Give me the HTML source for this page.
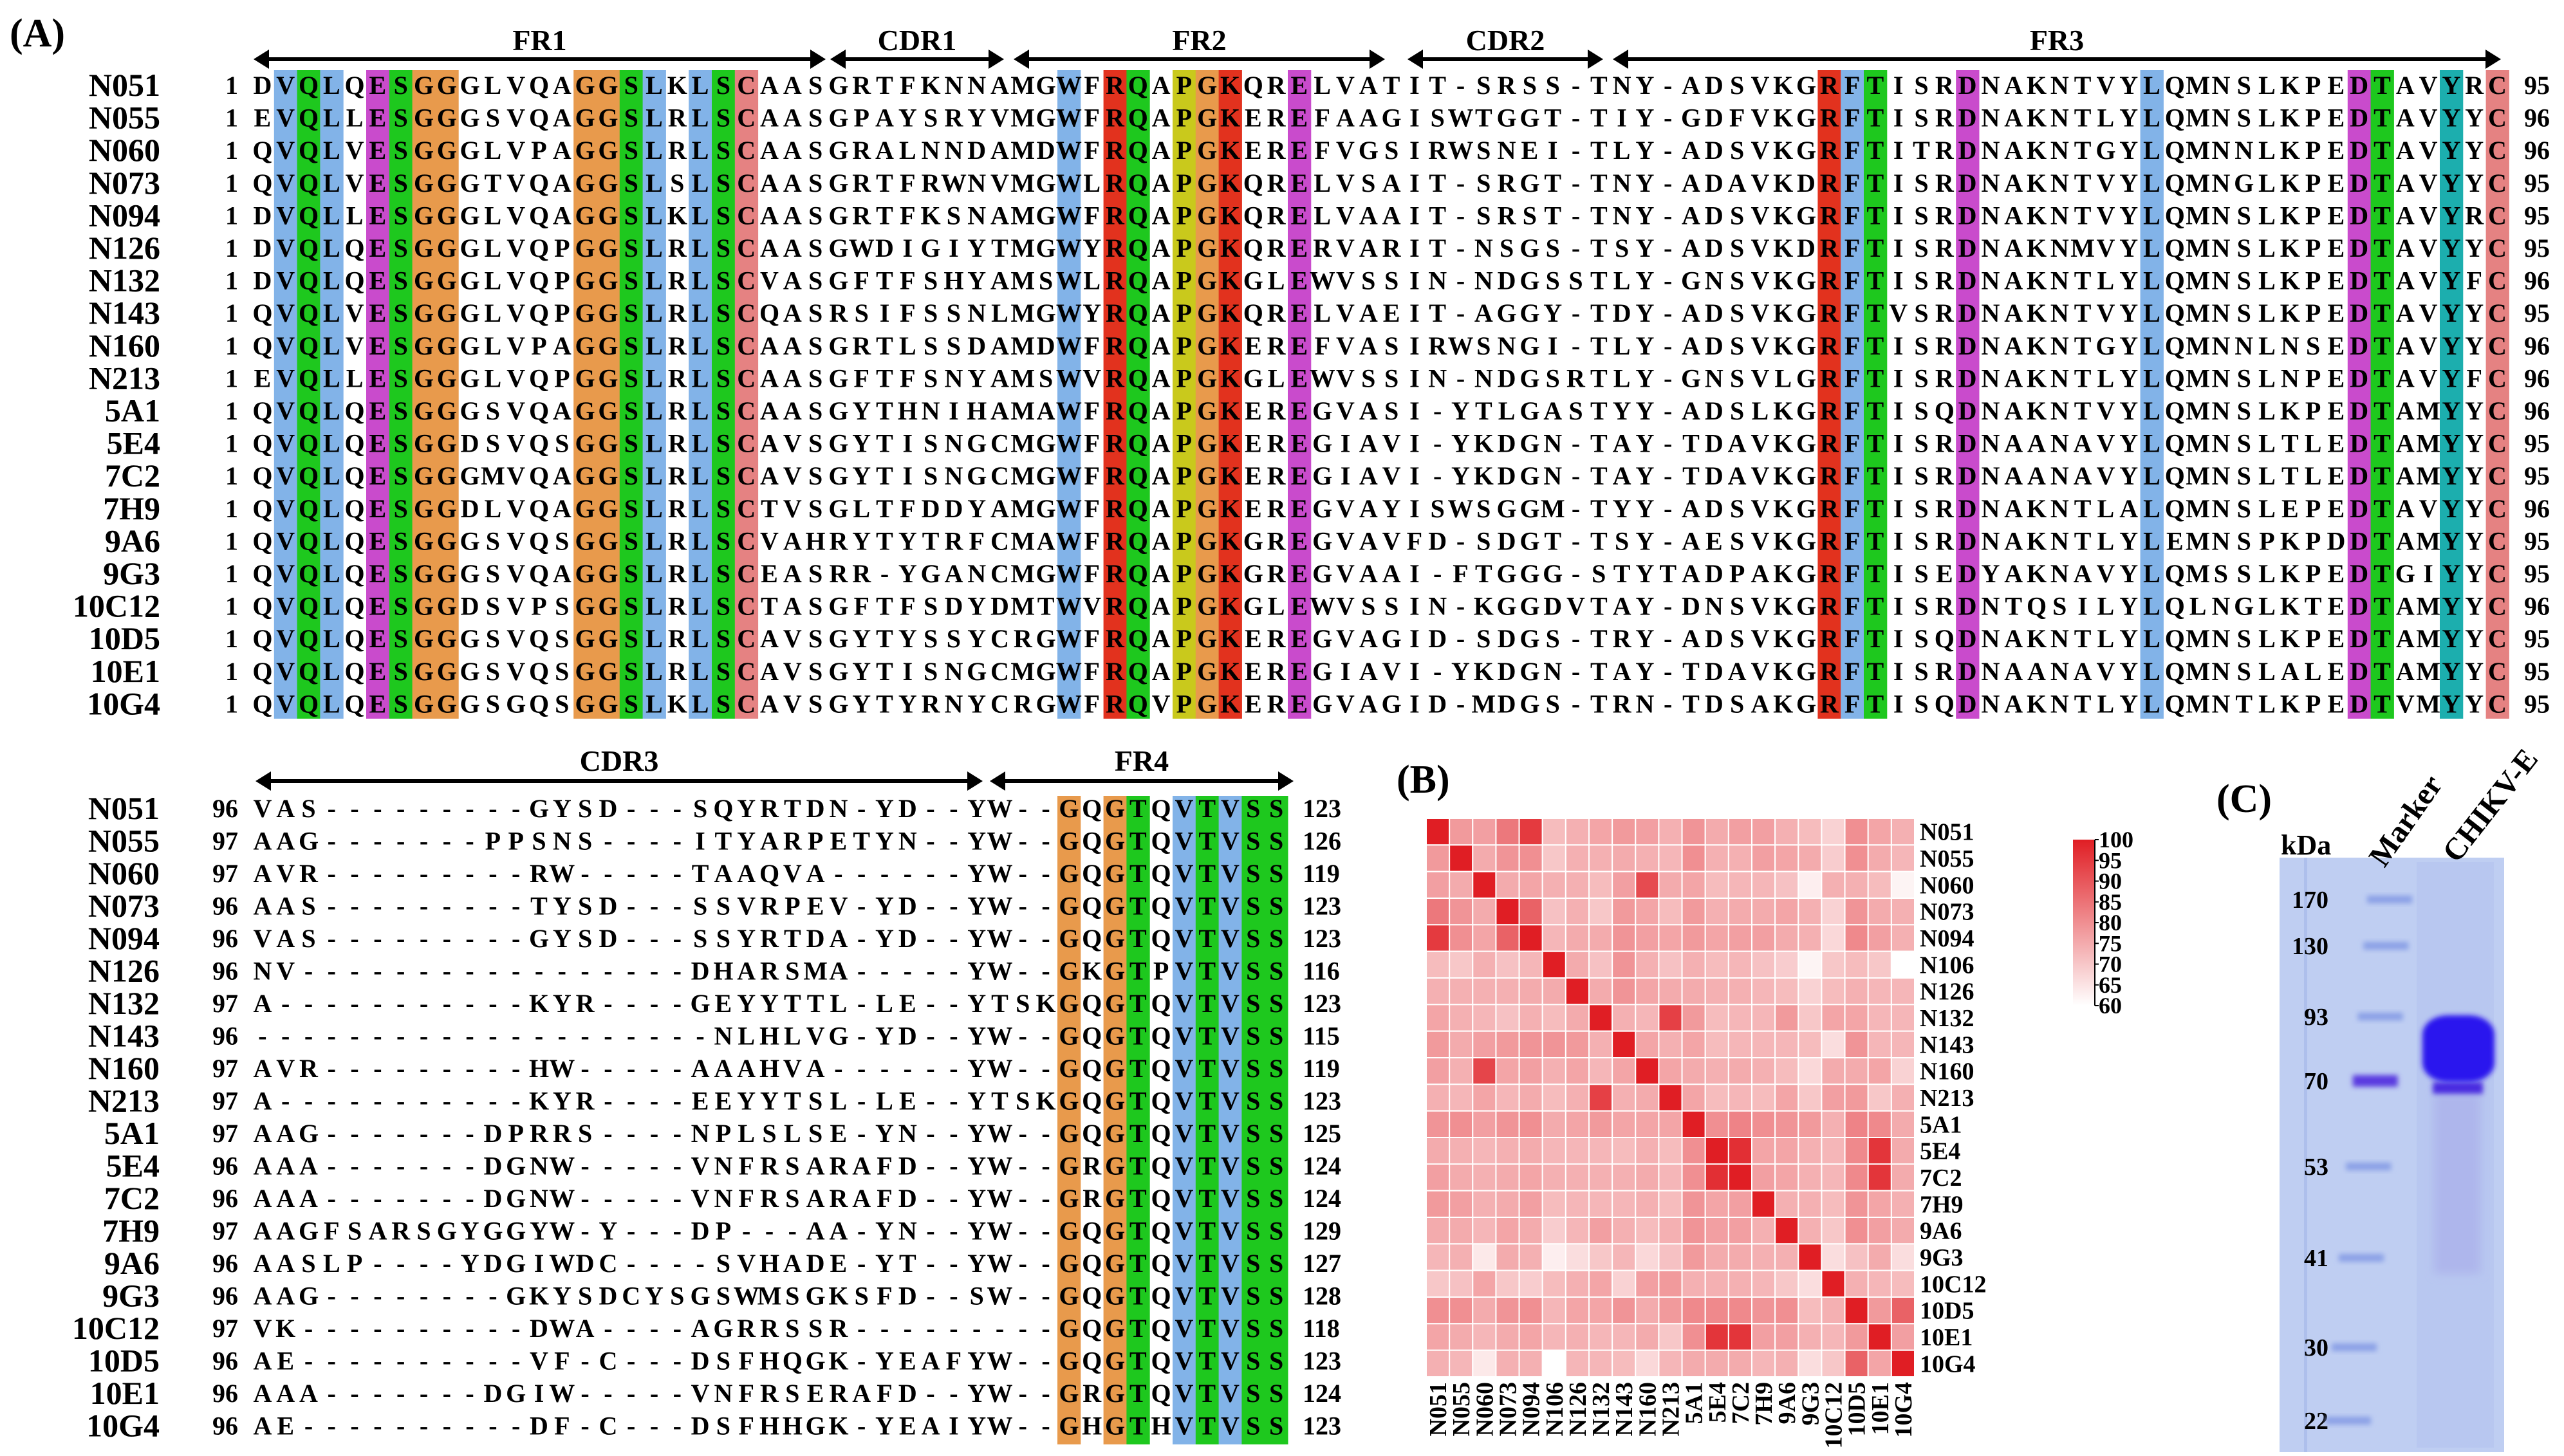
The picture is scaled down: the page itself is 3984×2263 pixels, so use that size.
<!DOCTYPE html>
<html><head><meta charset="utf-8"><style>
html,body{margin:0;padding:0;background:#fff}
svg{display:block;font-family:"Liberation Serif",serif;font-weight:bold}
</style></head><body>
<svg id="fig" width="3984" height="2263" viewBox="0 0 3984 2263" xmlns="http://www.w3.org/2000/svg">
<defs>
<filter id="blur4" x="-20%" y="-50%" width="140%" height="200%"><feGaussianBlur stdDeviation="4"/></filter>
<filter id="blur8" x="-20%" y="-50%" width="140%" height="200%"><feGaussianBlur stdDeviation="7"/></filter>
<linearGradient id="cbar" x1="0" y1="1" x2="0" y2="0"><stop offset="0" stop-color="#ffffff"/><stop offset="1" stop-color="#e01e24"/></linearGradient>
</defs>
<g id="panelA"></g>
<g id="panelB"></g>
<g id="panelC"></g>
</svg>
<script>
// ---------- data ----------
const names = ["N051","N055","N060","N073","N094","N126","N132","N143","N160","N213","5A1","5E4","7C2","7H9","9A6","9G3","10C12","10D5","10E1","10G4"];
const seqTop = [
"DVQLQESGGGLVQAGGSLKLSCAASGRTFKNNAMGWFRQAPGKQRELVATIT-SRSS-TNY-ADSVKGRFTISRDNAKNTVYLQMNSLKPEDTAVYRC",
"EVQLLESGGGSVQAGGSLRLSCAASGPAYSRYVMGWFRQAPGKEREFAAGISWTGGT-TIY-GDFVKGRFTISRDNAKNTLYLQMNSLKPEDTAVYYC",
"QVQLVESGGGLVPAGGSLRLSCAASGRALNNDAMDWFRQAPGKEREFVGSIRWSNEI-TLY-ADSVKGRFTITRDNAKNTGYLQMNNLKPEDTAVYYC",
"QVQLVESGGGTVQAGGSLSLSCAASGRTFRWNVMGWLRQAPGKQRELVSAIT-SRGT-TNY-ADAVKDRFTISRDNAKNTVYLQMNGLKPEDTAVYYC",
"DVQLLESGGGLVQAGGSLKLSCAASGRTFKSNAMGWFRQAPGKQRELVAAIT-SRST-TNY-ADSVKGRFTISRDNAKNTVYLQMNSLKPEDTAVYRC",
"DVQLQESGGGLVQPGGSLRLSCAASGWDIGIYTMGWYRQAPGKQRERVARIT-NSGS-TSY-ADSVKDRFTISRDNAKNMVYLQMNSLKPEDTAVYYC",
"DVQLQESGGGLVQPGGSLRLSCVASGFTFSHYAMSWLRQAPGKGLEWVSSIN-NDGSSTLY-GNSVKGRFTISRDNAKNTLYLQMNSLKPEDTAVYFC",
"QVQLVESGGGLVQPGGSLRLSCQASRSIFSSNLMGWYRQAPGKQRELVAEIT-AGGY-TDY-ADSVKGRFTVSRDNAKNTVYLQMNSLKPEDTAVYYC",
"QVQLVESGGGLVPAGGSLRLSCAASGRTLSSDAMDWFRQAPGKEREFVASIRWSNGI-TLY-ADSVKGRFTISRDNAKNTGYLQMNNLNSEDTAVYYC",
"EVQLLESGGGLVQPGGSLRLSCAASGFTFSNYAMSWVRQAPGKGLEWVSSIN-NDGSRTLY-GNSVLGRFTISRDNAKNTLYLQMNSLNPEDTAVYFC",
"QVQLQESGGGSVQAGGSLRLSCAASGYTHNIHAMAWFRQAPGKEREGVASI-YTLGASTYY-ADSLKGRFTISQDNAKNTVYLQMNSLKPEDTAMYYC",
"QVQLQESGGDSVQSGGSLRLSCAVSGYTISNGCMGWFRQAPGKEREGIAVI-YKDGN-TAY-TDAVKGRFTISRDNAANAVYLQMNSLTLEDTAMYYC",
"QVQLQESGGGMVQAGGSLRLSCAVSGYTISNGCMGWFRQAPGKEREGIAVI-YKDGN-TAY-TDAVKGRFTISRDNAANAVYLQMNSLTLEDTAMYYC",
"QVQLQESGGDLVQAGGSLRLSCTVSGLTFDDYAMGWFRQAPGKEREGVAYISWSGGM-TYY-ADSVKGRFTISRDNAKNTLALQMNSLEPEDTAVYYC",
"QVQLQESGGGSVQSGGSLRLSCVAHRYTYTRFCMAWFRQAPGKGREGVAVFD-SDGT-TSY-AESVKGRFTISRDNAKNTLYLEMNSPKPDDTAMYYC",
"QVQLQESGGGSVQAGGSLRLSCEASRR-YGANCMGWFRQAPGKGREGVAAI-FTGGG-STYTADPAKGRFTISEDYAKNAVYLQMSSLKPEDTGIYYC",
"QVQLQESGGDSVPSGGSLRLSCTASGFTFSDYDMTWVRQAPGKGLEWVSSIN-KGGDVTAY-DNSVKGRFTISRDNTQSILYLQLNGLKTEDTAMYYC",
"QVQLQESGGGSVQSGGSLRLSCAVSGYTYSSYCRGWFRQAPGKEREGVAGID-SDGS-TRY-ADSVKGRFTISQDNAKNTLYLQMNSLKPEDTAMYYC",
"QVQLQESGGGSVQSGGSLRLSCAVSGYTISNGCMGWFRQAPGKEREGIAVI-YKDGN-TAY-TDAVKGRFTISRDNAANAVYLQMNSLALEDTAMYYC",
"QVQLQESGGGSGQSGGSLKLSCAVSGYTYRNYCRGWFRQVPGKEREGVAGID-MDGS-TRN-TDSAKGRFTISQDNAKNTLYLQMNTLKPEDTVMYYC"];
const endTop = [95,96,96,95,95,95,96,95,96,96,96,95,95,96,95,95,96,95,95,95];
const seqBot = [
"VAS---------GYSD---SQYRTDN-YD--YW--GQGTQVTVSS",
"AAG-------PPSNS----ITYARPETYN--YW--GQGTQVTVSS",
"AVR---------RW-----TAAQVA------YW--GQGTQVTVSS",
"AAS---------TYSD---SSVRPEV-YD--YW--GQGTQVTVSS",
"VAS---------GYSD---SSYRTDA-YD--YW--GQGTQVTVSS",
"NV-----------------DHARSMA-----YW--GKGTPVTVSS",
"A-----------KYR----GEYYTTL-LE--YTSKGQGTQVTVSS",
"--------------------NLHLVG-YD--YW--GQGTQVTVSS",
"AVR---------HW-----AAAHVA------YW--GQGTQVTVSS",
"A-----------KYR----EEYYTSL-LE--YTSKGQGTQVTVSS",
"AAG-------DPRRS----NPLSLSE-YN--YW--GQGTQVTVSS",
"AAA-------DGNW-----VNFRSARAFD--YW--GRGTQVTVSS",
"AAA-------DGNW-----VNFRSARAFD--YW--GRGTQVTVSS",
"AAGFSARSGYGGYW-Y---DP---AA-YN--YW--GQGTQVTVSS",
"AASLP----YDGIWDC----SVHADE-YT--YW--GQGTQVTVSS",
"AAG--------GKYSDCYSGSWMSGKSFD--SW--GQGTQVTVSS",
"VK----------DWA----AGRRSSR---------GQGTQVTVSS",
"AE----------VF-C---DSFHQGK-YEAFYW--GQGTQVTVSS",
"AAA-------DGIW-----VNFRSERAFD--YW--GRGTQVTVSS",
"AE----------DF-C---DSFHHGK-YEAIYW--GHGTHVTVSS"];
const startBot = [96,97,97,96,96,96,97,96,97,97,97,96,96,97,96,96,97,96,96,96];
const endBot = [123,126,119,123,123,116,123,115,119,123,125,124,124,129,127,128,118,123,124,123];
const bandsTop = [[1,"b"],[2,"g"],[3,"b"],[5,"m"],[6,"g"],[7,"o"],[8,"o"],[14,"o"],[15,"o"],[16,"g"],[17,"b"],[19,"b"],[20,"g"],[21,"p"],[35,"b"],[37,"r"],[38,"g"],[40,"y"],[41,"o"],[42,"r"],[45,"m"],[68,"r"],[69,"b"],[70,"g"],[74,"m"],[82,"b"],[91,"m"],[92,"g"],[95,"t"],[97,"p"]];
const bandsBot = [[35,"o"],[37,"o"],[38,"g"],[40,"b"],[41,"g"],[42,"b"],[43,"g"],[44,"g"]];
const regionsTop = [["FR1",394,1283],["CDR1",1290,1560],["FR2",1575,2152],["CDR2",2187,2491],["FR3",2506,3886]];
const regionsBot = [["CDR3",397,1527],["FR4",1538,2010]];

const hmLabels = ["N051","N055","N060","N073","N094","N106","N126","N132","N143","N160","N213","5A1","5E4","7C2","7H9","9A6","9G3","10C12","10D5","10E1","10G4"];
const hmRow0 = [100,78,77,84,95,72,74,76,78,77,74,79,75,77,77,74,72,68,80,76,74];
const hmRow1 = [78,100,75,79,80,70,74,74,75,74,73,80,74,74,77,76,75,69,80,75,73];
const hmRow2 = [77,75,100,75,76,74,74,72,77,92,75,76,72,73,73,71,63,74,74,72,62];
const hmRow3 = [84,79,75,100,88,71,74,70,78,76,72,78,74,75,75,76,74,68,79,75,74];
const hmRow4 = [95,80,76,88,100,73,75,75,79,77,76,78,76,77,77,75,74,67,81,77,74];
const hmRow5 = [72,70,74,71,73,100,75,71,79,74,71,74,72,73,71,69,62,70,72,70,60];
const hmRow6 = [74,74,74,74,75,75,100,75,79,76,75,75,74,74,73,72,68,72,74,73,73];
const hmRow7 = [76,74,73,71,74,72,75,100,74,73,94,78,72,73,73,78,70,76,76,73,73];
const hmRow8 = [78,75,77,78,79,79,78,74,100,76,74,76,72,73,73,73,72,66,79,73,73];
const hmRow9 = [77,74,93,76,77,74,76,73,76,100,76,75,74,75,74,72,67,75,75,76,68];
const hmRow10 = [74,73,76,73,75,72,74,94,74,75,100,76,72,73,72,76,70,77,78,70,74];
const hmRow11 = [79,80,77,79,80,75,76,78,76,76,76,100,80,82,80,79,78,74,82,81,75];
const hmRow12 = [75,74,73,74,75,73,73,73,72,74,72,80,100,97,76,76,74,73,81,96,75];
const hmRow13 = [77,75,74,75,76,74,74,74,74,75,73,80,97,100,77,76,74,73,81,96,75];
const hmRow14 = [78,77,74,75,77,72,73,73,73,74,72,79,76,77,100,74,74,72,79,76,74];
const hmRow15 = [75,75,73,76,75,69,73,77,74,72,74,79,77,77,74,100,74,70,80,77,75];
const hmRow16 = [73,74,64,75,74,63,66,70,73,67,71,78,75,75,74,74,100,66,71,75,66];
const hmRow17 = [70,71,76,70,69,72,74,76,68,77,78,74,74,74,73,70,66,100,74,73,72];
const hmRow18 = [80,80,75,79,80,73,76,76,79,75,78,81,81,81,79,80,72,74,100,78,88];
const hmRow19 = [76,75,73,75,76,73,74,73,73,75,70,80,96,96,77,77,74,73,78,100,77];
const hmRow20 = [74,73,64,74,74,60,73,73,72,67,73,75,75,75,73,74,66,70,88,76,100];
const hmValues = [hmRow0,hmRow1,hmRow2,hmRow3,hmRow4,hmRow5,hmRow6,hmRow7,hmRow8,hmRow9,hmRow10,hmRow11,hmRow12,hmRow13,hmRow14,hmRow15,hmRow16,hmRow17,hmRow18,hmRow19,hmRow20];
const cbTicks = [100,95,90,85,80,75,70,65,60];

const gelMarkers = ["170","130","93","70","53","41","30","22"];
const gelMarkerY = [1398,1470,1580,1680,1813,1955,2094,2208];

// ---------- helpers ----------
const NS = "http://www.w3.org/2000/svg";
function mk(tag, attrs, parent, text){
  const e = document.createElementNS(NS, tag);
  for (const k in attrs) e.setAttribute(k, attrs[k]);
  if (text !== undefined) e.textContent = text;
  parent.appendChild(e);
  return e;
}
const COL = {b:"#82b3e8",g:"#1ec81e",o:"#e89a4c",m:"#c94bcc",p:"#e58282",r:"#e2321e",y:"#c9c91c",t:"#1caeae"};
const X0 = 390, CW = 35.8;
const colX = c => X0 + c*CW;

const A = document.getElementById("panelA");
let t = mk("text",{x:15,y:72,"font-size":62},A,"(A)");



function drawArrow(parent, x1, x2, y, label, ly){
  const g = mk("g",{},parent);
  
  
  mk("line",{x1:x1+18,y1:y,x2:x2-18,y2:y,stroke:"#000","stroke-width":6},g);
  mk("polygon",{points:`${x1},${y} ${x1+24},${y-15} ${x1+24},${y+15}`,fill:"#000"},g);
  mk("polygon",{points:`${x2},${y} ${x2-24},${y-15} ${x2-24},${y+15}`,fill:"#000"},g);
  mk("text",{x:(x1+x2)/2,y:ly,"font-size":46,"text-anchor":"middle"},g,label);
}
regionsTop.forEach(r=>drawArrow(A,r[1],r[2],92,r[0],78));
regionsBot.forEach(r=>drawArrow(A,r[1],r[2],1214,r[0],1198));

function drawBlock(seqs, bands, y0, dy, bandTop, bandBot, startNums, endNums, endX, numX, nameX, tag){
  const g = mk("g",{},A);
  
  
  bands.forEach(b=>{
    const r = mk("rect",{x:colX(b[0]),y:bandTop,width:CW+0.5,height:bandBot-bandTop,fill:COL[b[1]]},g);
    
    
  });
  seqs.forEach((s,i)=>{
    const y = y0 + i*dy;
    const n = mk("text",{x:nameX,y:y+17,"font-size":50,"text-anchor":"end"},g,names[i]);
    
    
    mk("text",{x:numX,y:y+14,"font-size":40},g,String(startNums[i]));
    const row = mk("text",{y:y+14,"font-size":40,"text-anchor":"middle"},g);
    
    
    for (let c=0;c<s.length;c++){
      mk("tspan",{x:colX(c)+CW/2},row, s[c]);
    }
    mk("text",{x:endX,y:y+14,"font-size":40},g,String(endNums[i]));
  });
}
drawBlock(seqTop, bandsTop, 132, 50.6, 109, 1117, names.map(()=>1), endTop, 3922, 350, 249, "upper");
drawBlock(seqBot, bandsBot, 1256, 50.5, 1237, 2245, startBot, endBot, 2024, 330, 248, "lower");

// ---------- heatmap ----------
const B = document.getElementById("panelB");
t = mk("text",{x:2170,y:1232,"font-size":62},B,"(B)");


const HX=2216, HY=1272, HW=759, HH=868;
const n = hmLabels.length, cw = HW/n, ch = HH/n;
const xs = i => HX + i*cw, ys = i => HY + i*ch;
function heatColor(v){
  const tt = Math.max(0,Math.min(1,(v-60)/40));
  const r = Math.round(255 + (224-255)*tt), gg = Math.round(255 + (30-255)*tt), bb = Math.round(255 + (36-255)*tt);
  return `rgb(${r},${gg},${bb})`;
}
hmValues.forEach((row,i)=>row.forEach((v,j)=>{
  const c = mk("rect",{x:xs(j),y:ys(i),width:cw,height:ch,fill:heatColor(v),stroke:"#fff","stroke-width":2},B);
  
  
}));
hmLabels.forEach((lab,i)=>{
  const r = mk("text",{x:HX+HW+8,y:ys(i)+ch/2+13,"font-size":38},B,lab);
  
  
  const cx = xs(i)+cw/2+13, cy = HY+HH+8;
  const c = mk("text",{x:cx,y:cy,"font-size":38,"text-anchor":"end",transform:`rotate(-90 ${cx} ${cy})`},B,lab);
  
  
});
// colorbar
const CBX=3221, CBY=1305, CBW=34, CBH=258;
const cb = mk("rect",{x:CBX,y:CBY,width:CBW,height:CBH,fill:"url(#cbar)"},B);


mk("line",{x1:CBX+CBW,y1:CBY,x2:CBX+CBW,y2:CBY+CBH,stroke:"#000","stroke-width":2},B);
const cbY = v => CBY + (100-v)/40*CBH;
cbTicks.forEach(v=>{
  mk("line",{x1:CBX+CBW,y1:cbY(v),x2:CBX+CBW+6,y2:cbY(v),stroke:"#000","stroke-width":2},B);
  const tl = mk("text",{x:CBX+CBW+6,y:cbY(v)+12,"font-size":36},B,String(v));
  
  
});

// ---------- gel ----------
const C = document.getElementById("panelC");
t = mk("text",{x:3444,y:1262,"font-size":62},C,"(C)");


const gel = mk("rect",{x:3542,y:1333,width:349,height:924,fill:"#bfcef2"},C);


mk("rect",{x:3580,y:1333,width:5,height:924,fill:"#aebfec"},C);
mk("rect",{x:3755,y:1340,width:120,height:910,fill:"#b8c7f0"},C);
const kd = mk("text",{x:3544,y:1328,"font-size":44},C,"kDa");


gelMarkers.forEach((m,i)=>{
  const y = gelMarkerY[i];
  const l = mk("text",{x:3618,y:y+13,"font-size":38,"text-anchor":"end"},C,m);
  
  
  const shift = (y-1398)/(2208-1398)*(-64);
  const dark = m==="70";
  mk("rect",{x:3678+shift,y:y-(dark?9:6),width:70,height:dark?18:12,fill:dark?"#5a3ae0":"#8aa0e6",filter:"url(#blur4)"},C);
});
// sample lane
mk("rect",{x:3782,y:1700,width:72,height:280,fill:"#aeb6ec",filter:"url(#blur8)"},C);
mk("rect",{x:3780,y:1682,width:78,height:18,fill:"#4a2ae0",filter:"url(#blur4)"},C);
const blob = mk("rect",{x:3764,y:1578,width:112,height:104,rx:40,ry:30,fill:"#2a18ee",filter:"url(#blur4)"},C);


const lm = mk("text",{x:3705,y:1350,"font-size":48,transform:"rotate(-55 3705 1350)"},C,"Marker");


const lc = mk("text",{x:3818,y:1343,"font-size":48,transform:"rotate(-52 3818 1343)"},C,"CHIKV-E");


</script>
</body></html>
